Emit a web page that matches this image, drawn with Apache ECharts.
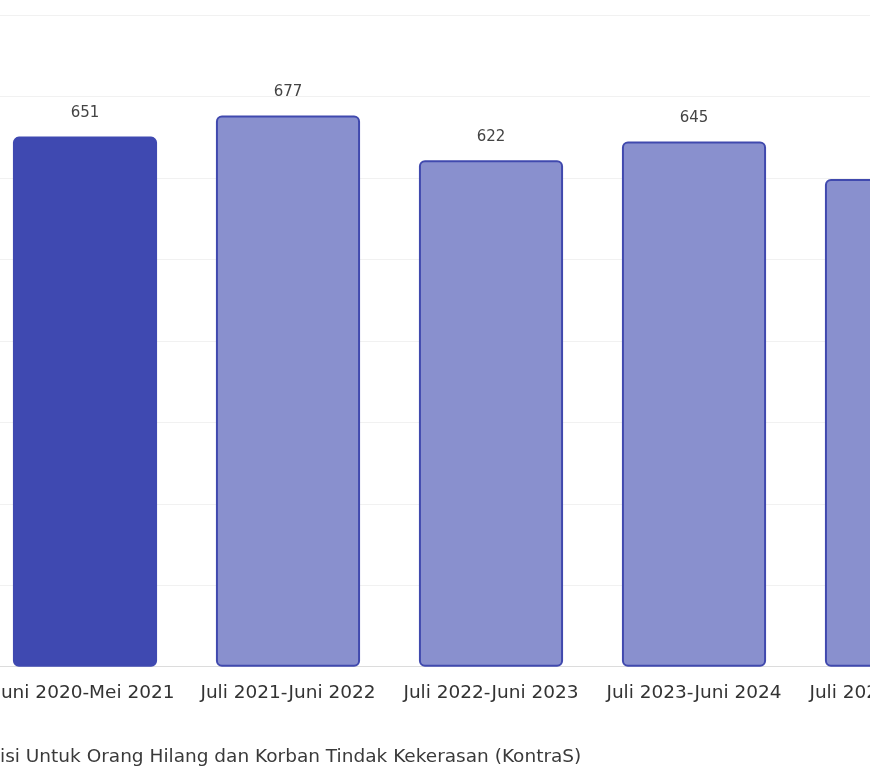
<!DOCTYPE html>
<html>
<head>
<meta charset="utf-8">
<script src="https://cdn.jsdelivr.net/npm/echarts@6/dist/echarts.min.js"></script>
<style>
html,body{margin:0;padding:0;background:#fff;}
#chart{width:870px;height:773px;}
</style>
</head>
<body>
<div id="chart"></div>
<script>
const categories = ["Juni 2020-Mei 2021","Juli 2021-Juni 2022","Juli 2022-Juni 2023","Juli 2023-Juni 2024","Juli 2024-Juni 2025"];
const values = [651, 677, 622, 645, 599];
const highlightIndex = 0;
const sourceText = "isi Untuk Orang Hilang dan Korban Tindak Kekerasan (KontraS)";

const FONT = "DejaVu Sans";
const chart = echarts.init(document.getElementById('chart'));
chart.setOption({
  animation: false,
  backgroundColor: '#ffffff',
  grid: { left: -16.5, width: 1015, top: 15.3, height: 651.4, containLabel: false, outerBoundsMode: 'none' },
  xAxis: {
    type: 'category',
    data: categories,
    axisLine: { lineStyle: { color: '#dcdcdc', width: 1 } },
    axisTick: { show: false },
    axisLabel: { color: '#333', fontSize: 18.5, fontFamily: FONT, margin: 17, interval: 0, hideOverlap: false }
  },
  yAxis: {
    type: 'value', min: 0, max: 800, interval: 100,
    axisLabel: { show: false },
    axisLine: { show: false }, axisTick: { show: false },
    splitLine: { lineStyle: { color: '#f1f1f1', width: 1 } }
  },
  series: [{
    type: 'bar',
    barCategoryGap: '29%',
    data: values.map((v, i) => ({
      value: v,
      itemStyle: i === highlightIndex
        ? { color: '#3f49b1', borderColor: '#3f49b1', borderWidth: 2, borderRadius: 5 }
        : { color: '#8990ce', borderColor: '#4049ae', borderWidth: 2, borderRadius: 5 }
    })),
    label: { show: true, position: 'top', distance: 16, color: '#444', fontSize: 15, fontFamily: FONT }
  }],
  graphic: [{
    type: 'text', left: 0, top: 748,
    style: { text: sourceText, fill: '#3a3a3a', fontSize: 18.5, fontFamily: FONT }
  }]
});
</script>
</body>
</html>
